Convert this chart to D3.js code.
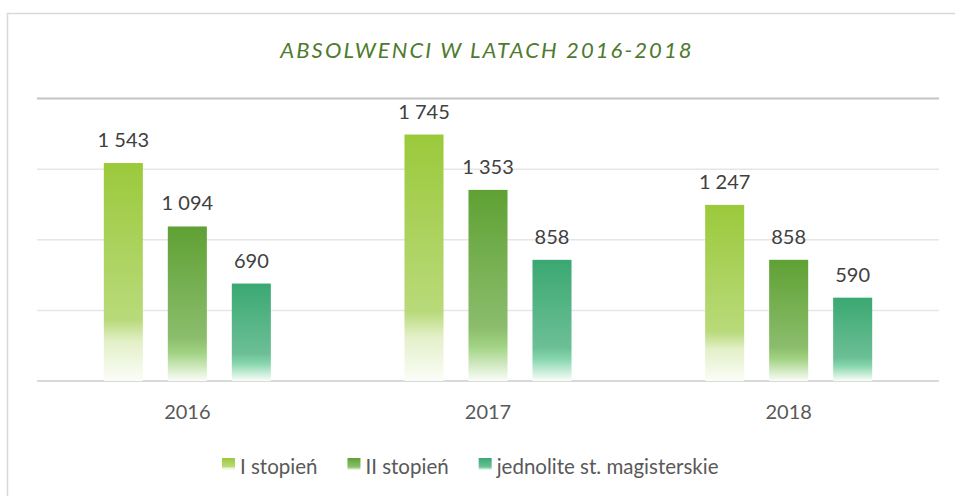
<!DOCTYPE html>
<html>
<head>
<meta charset="utf-8">
<script src="https://cdn.jsdelivr.net/npm/d3@7"></script>
<style>
  html, body { margin: 0; padding: 0; background: #fff; }
  svg { display: block; font-family: Lato, "Open Sans", sans-serif; }
</style>
</head>
<body>
<div id="chart"></div>
<script>
const years = ['2016', '2017', '2018'];
const series = ['I stopień', 'II stopień', 'jednolite st. magisterskie'];
const firstDegree = [1543, 1745, 1247];
const secondDegree = [1094, 1353, 858];
const uniform = [690, 858, 590];
const yTicks = [0, 500, 1000, 1500, 2000];

const values = [firstDegree, secondDegree, uniform];

// gradient stops per series: top colour, lighter mid, pale near bottom
const palette = [
  { top: '#9bc93b', mid: '#b9da7a', low: '#e3f0c8' },
  { top: '#5fa134', mid: '#8bbd6c', low: '#a2d384' },
  { top: '#3aa872', mid: '#6cbf95', low: '#86d6ae' }
];

const width = 955,
  height = 496,
  margin = { left: 37, right: 16, top: 98.5, bottom: 115 };

const svg = d3.select('#chart').append('svg')
  .attr('width', width)
  .attr('height', height);

const defs = svg.append('defs');
palette.forEach(function(p, i) {
  const g = defs.append('linearGradient')
    .attr('id', 'grad' + i)
    .attr('x1', 0).attr('y1', 0).attr('x2', 0).attr('y2', 1);
  g.append('stop').attr('offset', '0%').attr('stop-color', p.top);
  g.append('stop').attr('offset', '72%').attr('stop-color', p.mid);
  g.append('stop').attr('offset', '82%').attr('stop-color', p.low);
  g.append('stop').attr('offset', '100%').attr('stop-color', '#fbfdf8');
});

// frame
svg.append('rect')
  .attr('x', 7.5).attr('y', 13.5)
  .attr('width', width + 20).attr('height', height + 20)
  .attr('fill', 'none')
  .attr('stroke', '#d9d9d9')
  .attr('stroke-width', 1.5);

svg.append('text')
  .attr('x', 487)
  .attr('y', 58)
  .attr('text-anchor', 'middle')
  .attr('font-size', 22)
  .attr('font-style', 'italic')
  .attr('letter-spacing', 2.1)
  .attr('fill', '#4e7a2e')
  .text('ABSOLWENCI W LATACH 2016-2018');

const x0 = d3.scaleBand()
  .domain(years)
  .range([margin.left, width - margin.right]);

const x1 = d3.scaleBand()
  .domain(series)
  .range([0, 192])
  .paddingInner(0.39)
  .paddingOuter(0.195);

const y = d3.scaleLinear()
  .domain([0, 2000])
  .range([height - margin.bottom, margin.top]);

// gridlines
svg.append('g')
  .selectAll('line')
  .data(yTicks)
  .join('line')
    .attr('x1', margin.left)
    .attr('x2', width - margin.right)
    .attr('y1', d => y(d))
    .attr('y2', d => y(d))
    .attr('stroke', d => d === 2000 ? '#c4c4c4' : (d === 0 ? '#d9d9d9' : '#e6e6e6'))
    .attr('stroke-width', d => (d === 0 || d === 2000) ? 2 : 1.5);

const groups = svg.append('g')
  .selectAll('g')
  .data(years)
  .join('g')
    .attr('transform', d => 'translate(' + (x0(d) + x0.bandwidth() / 2 - 96) + ',0)');

const fmt = v => d3.format(',')(v).replace(',', ' ');

groups.selectAll('rect')
  .data((d, i) => series.map((s, j) => ({ s: s, j: j, v: values[j][i] })))
  .join('rect')
    .attr('x', d => x1(d.s))
    .attr('width', x1.bandwidth())
    .attr('y', d => y(d.v))
    .attr('height', d => y(0) - y(d.v))
    .attr('fill', d => 'url(#grad' + d.j + ')');

groups.selectAll('text')
  .data((d, i) => series.map((s, j) => ({ s: s, j: j, v: values[j][i] })))
  .join('text')
    .attr('x', d => x1(d.s) + x1.bandwidth() / 2)
    .attr('y', d => y(d.v) - 16)
    .attr('text-anchor', 'middle')
    .attr('font-size', 20)
    .attr('fill', '#404040')
    .text(d => fmt(d.v));

// category axis labels
svg.append('g')
  .selectAll('text')
  .data(years)
  .join('text')
    .attr('x', d => x0(d) + x0.bandwidth() / 2)
    .attr('y', 419)
    .attr('text-anchor', 'middle')
    .attr('font-size', 20)
    .attr('fill', '#595959')
    .text(d => d);

// legend
const legend = svg.append('g');
let lx = 222;
series.forEach(function(s, i) {
  legend.append('rect')
    .attr('x', lx).attr('y', 458)
    .attr('width', 13).attr('height', 12)
    .attr('fill', 'url(#grad' + i + ')');
  const t = legend.append('text')
    .attr('x', lx + 18)
    .attr('y', 474)
    .attr('font-size', 20.5)
    .attr('fill', '#595959')
    .text(s);
  lx += 18 + t.node().getComputedTextLength() + 30;
});
</script>
</body>
</html>
